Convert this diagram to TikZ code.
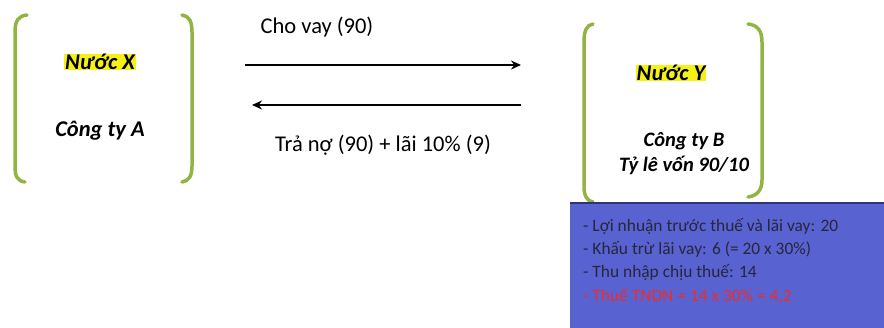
\documentclass[tikz,border=0pt]{standalone}
\usepackage{fontspec}
\setmainfont{Carlito}
\usetikzlibrary{arrows.meta, positioning}

\definecolor{bracketgreen}{RGB}{146,180,66}
\definecolor{tagyellow}{RGB}{246,240,20}
\definecolor{panelblue}{RGB}{88,98,208}
\definecolor{panelborder}{RGB}{45,52,120}
\definecolor{paneltext}{RGB}{38,38,60}
\definecolor{taxred}{RGB}{235,45,50}

\begin{document}
\begin{tikzpicture}[x=1pt, y=-1pt]
    \tikzstyle{bracket}=[draw=bracketgreen, line width=3.5pt, line cap=round]
    \tikzstyle{country}=[fill=tagyellow, inner xsep=1pt, inner ysep=0.5pt, font=\bfseries\itshape\fontsize{22.5}{26}\selectfont]
    \tikzstyle{company}=[align=center, font=\bfseries\itshape\fontsize{22.5}{27}\selectfont]
    \tikzstyle{flowlabel}=[font=\fontsize{22.5}{26}\selectfont]
    \tikzstyle{flowarrow}=[draw, line width=1.6pt, -{Stealth[length=10pt, width=9pt]}]
    \tikzstyle{panelline}=[anchor=west, inner sep=0pt, text=paneltext, font=\fontsize{17.4}{21}\selectfont]

    \useasboundingbox (0,0) rectangle (884,328);

    % Country X
    \draw[bracket] (27,15) .. controls (18,16) and (15,21) .. (15,32) -- (15,166) .. controls (15,176) and (17,181) .. (25,182);
    \draw[bracket] (182,15) .. controls (189,16) and (192,21) .. (192,32) -- (192,166) .. controls (192,176) and (189,181) .. (182,182);
    \node[country] (country_x) at (100,62) {Nước X};
    \node[company] (company_a) at (100,131) {Công ty A};

    % Country Y
    \draw[bracket] (593,24) .. controls (587,25) and (584,30) .. (584,42) -- (584,186) .. controls (584,196) and (587,201) .. (593,202);
    \draw[bracket] (748,24) .. controls (757,25) and (762,30) .. (762,42) -- (762,180) .. controls (762,190) and (757,196) .. (748,197);
    \node[country] (country_y) at (671,73) {Nước Y};
    \node[company, font=\bfseries\itshape\fontsize{20.5}{25}\selectfont] (company_b) at (684,154) {Công ty B\\Tỷ lê vốn 90/10};

    % Loan flows
    \coordinate (loan_start) at (245,65);
    \coordinate (loan_end) at (521,65);
    \coordinate (repay_start) at (521,105);
    \coordinate (repay_end) at (252,105);
    \draw[flowarrow] (loan_start) -- (loan_end);
    \draw[flowarrow] (repay_start) -- (repay_end);
    \node[flowlabel] (loan_label) at (317,27) {Cho vay (90)};
    \node[flowlabel] (repay_label) at (383,145) {Trả nợ (90) + lãi 10\% (9)};

    % Tax panel
    \fill[panelblue] (570,203) rectangle (884,328);
    \draw[panelborder, line width=2pt] (570,203) -- (884,203);
    \node[panelline] (line_profit) at (583,226) {- Lợi nhuận trước thuế và lãi vay: 20};
    \node[panelline, below=7pt of line_profit.south west, anchor=north west] (line_deduct) {- Khấu trừ lãi vay: 6 (= 20 x 30\%)};
    \node[panelline, below=7pt of line_deduct.south west, anchor=north west] (line_income) {- Thu nhập chịu thuế: 14};
    \node[panelline, text=taxred, below=7pt of line_income.south west, anchor=north west] (line_tax) {- Thuế TNDN = 14 x 30\% = 4,2};
\end{tikzpicture}
\end{document}
